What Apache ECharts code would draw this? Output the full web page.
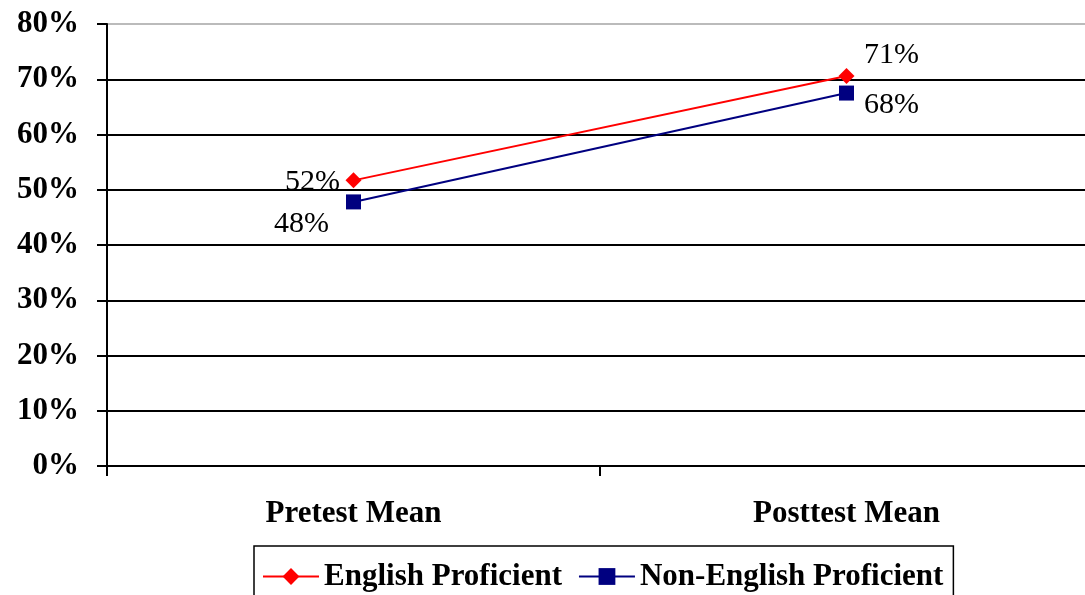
<!DOCTYPE html>
<html><head><meta charset="utf-8">
<script src="https://cdn.jsdelivr.net/npm/echarts@6/dist/echarts.min.js"></script>
<style>html,body{margin:0;padding:0;background:#fff}#c{width:1085px;height:595px}</style>
</head><body><div id="c"></div>
<script>
const categories = ['Pretest Mean', 'Posttest Mean'];
const englishProficient = [0.517, 0.706];
const nonEnglishProficient = [0.478, 0.675];
const englishLabels = ['52%', '71%'];
const nonEnglishLabels = ['48%', '68%'];
const seriesNames = ['English Proficient', 'Non-English Proficient'];

const FONT = "'Liberation Serif', 'Times New Roman', serif";
const engOffsets = [[-41, 2], [45, -21]];
const nonOffsets = [[-52, 22], [45, 12]];

function mk(vals, labels, offs) {
  return vals.map((v, i) => ({
    value: v,
    label: { show: true, position: 'inside', offset: offs[i], formatter: labels[i],
      color: '#000', fontFamily: FONT, fontSize: 30, fontWeight: 'normal' }
  }));
}

const chart = echarts.init(document.getElementById('c'), null, { renderer: 'canvas' });
chart.setOption({
  animation: false,
  backgroundColor: '#fff',
  grid: { left: 107, top: 24, width: 986, height: 442, containLabel: false, outerBoundsMode: 'none' },
  legend: {
    left: 254, top: 546,
    borderColor: '#000', borderWidth: 1.5,
    padding: [15, 10, 20, 8],
    itemGap: 16, itemWidth: 56, itemHeight: 21,
    textStyle: { fontFamily: FONT, fontSize: 31, fontWeight: 'bold', color: '#000' },
    data: seriesNames
  },
  xAxis: {
    type: 'category', data: categories, boundaryGap: true,
    axisLine: { lineStyle: { color: '#000', width: 2 } },
    axisTick: { show: true, length: 10, inside: false, alignWithLabel: false, lineStyle: { color: '#000', width: 2 } },
    axisLabel: { margin: 32, color: '#000', fontFamily: FONT, fontSize: 31, fontWeight: 'bold' }
  },
  yAxis: {
    type: 'value', min: 0, max: 0.8, interval: 0.1,
    axisLine: { show: true, lineStyle: { color: '#000', width: 2 } },
    axisTick: { show: true, length: 10, lineStyle: { color: '#000', width: 2 } },
    axisLabel: { margin: 28, color: '#000', fontFamily: FONT, fontSize: 31, fontWeight: 'bold',
      formatter: v => Math.round(v * 100) + '%' },
    splitLine: { show: true, lineStyle: { width: 2, color: ['#000','#000','#000','#000','#000','#000','#000','#000','#bbb'] } }
  },
  series: [
    { name: seriesNames[0], type: 'line', data: mk(englishProficient, englishLabels, engOffsets),
      symbol: 'diamond', symbolSize: 16, color: '#ff0000',
      lineStyle: { color: '#ff0000', width: 2 }, itemStyle: { color: '#ff0000' } },
    { name: seriesNames[1], type: 'line', data: mk(nonEnglishProficient, nonEnglishLabels, nonOffsets),
      symbol: 'rect', symbolSize: 15, color: '#000080',
      lineStyle: { color: '#000080', width: 2 }, itemStyle: { color: '#000080' } }
  ]
});
</script></body></html>
